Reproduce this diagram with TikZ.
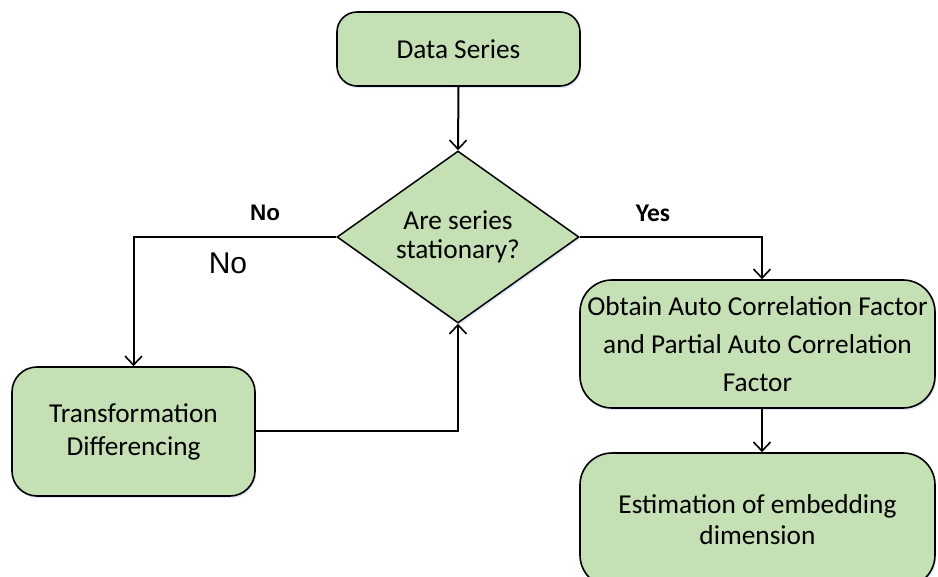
\documentclass[tikz,border=0pt]{standalone}
\usepackage{fontspec}
\setmainfont{Carlito}
\newfontfamily\arialfont{Liberation Sans}
\usetikzlibrary{shapes.geometric,arrows.meta,shadows}

\definecolor{boxgreen}{HTML}{C5E0B4}
\definecolor{glow}{HTML}{C9D6EE}

\tikzset{
  every node/.style={font=\fontsize{27.3}{33}\selectfont, align=center},
  softshadow/.style={drop shadow={shadow xshift=1.2pt, shadow yshift=-2.2pt, opacity=0.6, fill=glow}},
  roundbox/.style={draw=black, line width=1.6pt, fill=boxgreen, rounded corners=#1, inner sep=0pt, softshadow},
  decision/.style={diamond, draw=black, line width=1.5pt, fill=boxgreen, inner sep=0pt, softshadow,
                   shape aspect=1.407, minimum width=242pt, minimum height=172pt},
  flow/.style={line width=2pt, -{Straight Barb[length=9pt, width=17pt, line width=1.6pt]}},
  boldlabel/.style={font=\arialfont\bfseries\fontsize{22.5}{26}\selectfont},
  biglabel/.style={font=\arialfont\fontsize{30}{34}\selectfont},
  yeslabel/.style={font=\bfseries\fontsize{25.5}{29}\selectfont}
}

\begin{document}
\begin{tikzpicture}[x=1pt, y=-1pt]
  \useasboundingbox (0,0) rectangle (938,577);

  % process boxes
  \node[roundbox=20pt, minimum width=243pt, minimum height=74pt] (data) at (458.5,49) {Data Series};
  \node[decision, font=\fontsize{27.3}{29.5}\selectfont] (stat) at (458,237) {Are series\\stationary?};
  \node[roundbox=25pt, minimum width=243pt, minimum height=129pt] (trans) at (133.5,431.5)
       {Transformation\\Differencing};
  \node[roundbox=32pt, minimum width=355pt, minimum height=128pt, font=\fontsize{27.3}{38}\selectfont]
       (acf) at (757.5,344)
       {Obtain Auto Correlation Factor\\and Partial Auto Correlation\\Factor};
  \node[roundbox=32pt, minimum width=355pt, minimum height=134pt, font=\fontsize{27.3}{31}\selectfont]
       (embed) at (757.5,520)
       {Estimation of embedding\\dimension};

  % entry points of the arrows on the right column
  \coordinate (acfin) at ([xshift=4.5pt]acf.north);
  \coordinate (acfout) at ([xshift=4.5pt]acf.south);
  \coordinate (embedin) at ([xshift=4.5pt]embed.north);

  % connectors
  \draw[flow] (data.south) -- (stat.north);
  \draw[flow] (stat.west) -| (trans.north);
  \draw[flow] (trans.east) -| (stat.south);
  \draw[flow] (stat.east) -| (acfin);
  \draw[flow] (acfout) -- (embedin);

  % branch labels
  \node[boldlabel] (nolbl) at (265,213) {No};
  \node[biglabel] (nobig) at (228,263) {No};
  \node[yeslabel] (yeslbl) at (653,213) {Yes};
\end{tikzpicture}
\end{document}
